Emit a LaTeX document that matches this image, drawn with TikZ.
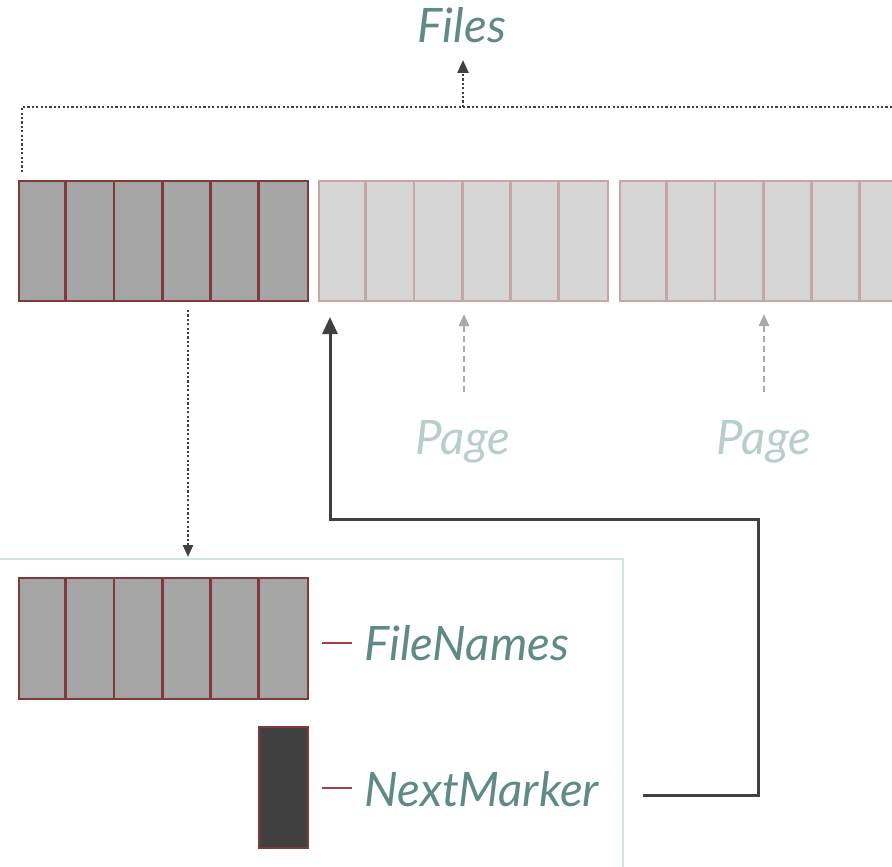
\documentclass[tikz,border=0pt]{standalone}
\usepackage{fontspec}
\setmainfont{Lato}
\usetikzlibrary{arrows.meta}
\definecolor{teal1}{RGB}{95,138,133}
\definecolor{tealpale}{RGB}{184,206,203}
\definecolor{frame}{RGB}{213,226,224}
\definecolor{darkred}{RGB}{127,58,60}
\definecolor{pinkred}{RGB}{201,165,165}
\definecolor{midgray}{RGB}{165,165,165}
\definecolor{lightgray}{RGB}{214,214,214}
\definecolor{darkgray}{RGB}{64,64,64}
\definecolor{dashred}{RGB}{160,64,64}
\definecolor{arrowgray}{RGB}{170,170,170}
\tikzset{
  lbl/.style={font=\fontsize{47.5}{52}\selectfont\itshape, text=teal1, inner sep=0pt},
  pagelbl/.style={font=\fontsize{47.5}{52}\selectfont\itshape, text=tealpale, inner sep=0pt},
  activebox/.style={draw=darkred, fill=midgray, line width=2.8pt, minimum width=289pt, minimum height=120pt, inner sep=0pt},
  pagebox/.style={draw=pinkred, fill=lightgray, line width=2.8pt, minimum width=289pt, minimum height=120pt, inner sep=0pt},
  markbox/.style={draw=darkred, fill=darkgray, line width=2.8pt, minimum width=49pt, minimum height=121pt, inner sep=0pt},
  dotline/.style={draw=darkgray, line width=2.3pt, dash pattern=on 2.2pt off 2.2pt},
  grayarrow/.style={draw=arrowgray, line width=2.2pt, dash pattern=on 6pt off 4pt, -{Triangle[length=12pt,width=10pt]}, arrowgray},
  solidarrow/.style={draw=darkgray, line width=3pt, -{Triangle[length=17pt,width=15pt]}},
  tick/.style={draw=dashred, line width=2.3pt},
}
\begin{document}
\begin{tikzpicture}[x=1pt,y=-1pt]
\useasboundingbox (0,0) rectangle (892,867);
\clip (0,0) rectangle (892,867);
% title
\node[lbl, anchor=base] (files) at (462,43) {Files};
% top row of pages
\node[activebox] (p1) at (163.5,241) {};
\node[pagebox] (p2) at (463.5,241) {};
\node[pagebox] (p3) at (764.5,241) {};
\foreach \k in {1,...,5}{
  \draw[darkred, line width=2.8pt] ([xshift=\k*48.17pt]p1.north west) -- ([xshift=\k*48.17pt]p1.south west);
  \draw[pinkred, line width=2.8pt] ([xshift=\k*48.17pt]p2.north west) -- ([xshift=\k*48.17pt]p2.south west);
  \draw[pinkred, line width=2.8pt] ([xshift=\k*48.17pt]p3.north west) -- ([xshift=\k*48.17pt]p3.south west);
}
% dotted bracket to Files
\coordinate (bl) at (22,172);
\coordinate (bc) at (463,107);
\coordinate (br) at (900,107);
\draw[dotline] (bl) -- (22,107) -- (br);
\draw[dotline, -{Triangle[length=13pt,width=11pt]}, darkgray] (bc) -- (463,60);
% page labels
\node[pagelbl, anchor=base] (pg1) at (463,454) {Page};
\node[pagelbl, anchor=base] (pg2) at (764,454) {Page};
\coordinate (pg1t) at (464,392);
\coordinate (pg2t) at (764,392);
\draw[grayarrow] (pg1t) -- (464,314);
\draw[grayarrow] (pg2t) -- (764,314);
% response frame
\draw[frame, line width=2.8pt] (-10,559) -- (623,559) -- (623,880);
% dotted arrow down
\coordinate (dtop) at (188,310);
\coordinate (dbot) at (188,557);
\draw[dotline, -{Triangle[length=12pt,width=10pt]}, darkgray] (dtop) -- (dbot);
% FileNames box
\node[activebox, minimum height=121pt] (fn) at (163.5,638.5) {};
\foreach \k in {1,...,5}{
  \draw[darkred, line width=2.8pt] ([xshift=\k*48.17pt]fn.north west) -- ([xshift=\k*48.17pt]fn.south west);
}
\node[markbox] (nmbox) at (283.5,787.5) {};
% labels
\coordinate (t1a) at (322,643);
\coordinate (t1b) at (352,643);
\draw[tick] (t1a) -- (t1b);
\coordinate (t2a) at (322,788);
\coordinate (t2b) at (352,788);
\draw[tick] (t2a) -- (t2b);
\node[lbl, anchor=base west] (fnl) at (364,660) {FileNames};
\node[lbl, anchor=base west] (nml) at (364,806) {NextMarker};
% NextMarker connector
\coordinate (nmout) at (643,795);
\coordinate (c1) at (758,795);
\coordinate (c2) at (758,519);
\coordinate (c3) at (330,519);
\coordinate (c4) at (330,317);
\draw[solidarrow] (nmout) -- (c1) -- (c2) -- (c3) -- (c4);
\end{tikzpicture}
\end{document}
